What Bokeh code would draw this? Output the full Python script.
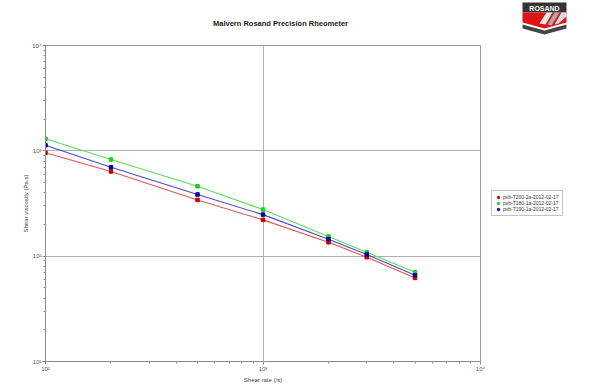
from bokeh.plotting import figure
from bokeh.layouts import column, row
from bokeh.models import (FixedTicker, CustomJSTickFormatter, Legend, LegendItem, Range1d)
from bokeh.core.properties import value
from bokeh.embed import file_html
from bokeh.resources import INLINE

shear_rate = [100, 200, 500, 1000, 2000, 3000, 5000]
visc_T200 = [957, 636, 342, 221, 135.5, 97.7, 62.2]
visc_T180 = [1300, 827, 461, 277, 153.6, 109, 70.3]
visc_T190 = [1130, 699, 385, 248, 145, 103.5, 65.9]
series_names = ["pvb-T200-2a-2012-02-17", "pvb-T180-1a-2012-02-17", "pvb-T190-1a-2012-02-17"]
x_major = [100, 1000, 10000]
y_major = [10, 100, 1000, 10000]
title_text = "Malvern Rosand Precision Rheometer"
logo_text = "ROSAND"

FONT = "Liberation Sans"
line_colors = ["#e05555", "#5ddd5d", "#4a4acc"]
mark_colors = ["#cc0000", "#22cc22", "#000099"]

# ---------------- header (title + logo), pixel coordinates ----------------
hdr = figure(width=600, height=40, x_range=Range1d(0, 600), y_range=Range1d(40, 0),
             x_axis_location=None, y_axis_location=None, output_backend="svg",
             toolbar_location=None, min_border=0)
hdr.outline_line_color = None
hdr.xgrid.visible = False
hdr.ygrid.visible = False
hdr.text(x=[280], y=[23], text=[title_text], text_align="center", text_baseline="middle",
         text_font=value(FONT), text_font_size="7.5px", text_font_style="bold",
         text_color="#222222")

L, T = 522, 2
def poly(pts, color):
    hdr.patch([L + a for a, b in pts], [T + b for a, b in pts],
              fill_color=color, line_color=None)
poly([(0, 0), (44, 0), (44, 10), (0, 10)], "#333333")
poly([(0, 10), (44, 10), (44, 20), (22, 26), (0, 20)], "#dd1515")
poly([(24, 10), (30, 10), (23, 22), (17, 21)], "#e8e8e8")
poly([(32, 10), (37, 10), (29, 23), (25, 22)], "#aaaaaa")
poly([(39, 10), (44, 10), (44, 14), (36, 21), (32, 22)], "#dddddd")
poly([(0, 22), (22, 28), (44, 22), (44, 26), (22, 32), (0, 26)], "#444444")
hdr.text(x=[L + 22], y=[T + 5.5], text=[logo_text], text_align="center",
         text_baseline="middle", text_font=value(FONT), text_font_size="7px",
         text_font_style="bold", text_color="white")

# ---------------- main chart ----------------
p = figure(width=490, height=348, x_axis_type="log", y_axis_type="log",
           x_range=(100, 10000), y_range=(10, 10000),
           output_backend="svg", toolbar_location=None,
           min_border_left=45, min_border_top=5, min_border_bottom=27, min_border_right=10)
p.outline_line_color = "#9a9a9a"

fmt = CustomJSTickFormatter(code="""
const e = Math.round(Math.log10(tick));
const sup = {"0":"\u2070","1":"\u00b9","2":"\u00b2","3":"\u00b3","4":"\u2074"};
return "10" + sup[String(e)];
""")

x_minor = [m * d for d in (100, 1000) for m in range(2, 10)]
y_minor = [m * d for d in (10, 100, 1000) for m in range(2, 10)]
p.xaxis.ticker = FixedTicker(ticks=x_major, minor_ticks=x_minor)
p.yaxis.ticker = FixedTicker(ticks=y_major, minor_ticks=y_minor)
for ax in (p.xaxis[0], p.yaxis[0]):
    ax.formatter = fmt
    ax.axis_line_color = "#8a8a8a"
    ax.major_tick_line_color = "#8a8a8a"
    ax.minor_tick_line_color = "#8a8a8a"
    ax.major_tick_out = 3
    ax.major_tick_in = 0
    ax.minor_tick_out = 2
    ax.minor_tick_in = 0
    ax.major_label_text_font = FONT
    ax.major_label_text_font_size = "6px"
    ax.major_label_text_color = "#555555"
    ax.major_label_standoff = 1
    ax.axis_label_text_font = FONT
    ax.axis_label_text_font_size = "6px"
    ax.axis_label_text_font_style = "normal"
    ax.axis_label_text_color = "#444444"
p.xaxis.axis_label_standoff = 2
p.yaxis.axis_label_standoff = 0
p.xaxis.axis_label = "Shear rate (/s)"
p.yaxis.axis_label = "Shear viscosity (Pa.s)"
p.xgrid.grid_line_color = "#b0b0b0"
p.ygrid.grid_line_color = "#b0b0b0"

for vals, lc, mc in zip([visc_T200, visc_T180, visc_T190], line_colors, mark_colors):
    p.line(shear_rate, vals, line_color=lc, line_width=1.1)
    p.scatter(shear_rate, vals, marker="square", size=3.5, fill_color=mc, line_color=mc)

# ---------------- side panel with legend ----------------
side = figure(width=110, height=348, x_range=Range1d(490, 600), y_range=Range1d(388, 40),
              x_axis_location=None, y_axis_location=None, output_backend="svg",
              toolbar_location=None, min_border=0)
side.outline_line_color = None
side.xgrid.visible = False
side.ygrid.visible = False
items = []
for name, mc in zip(series_names, mark_colors):
    # swatch renderers placed off-range: only their legend glyphs show
    r = side.scatter(x=[-100], y=[-100], marker="circle", size=3.5, fill_color=mc, line_color=mc)
    items.append(LegendItem(label=name, renderers=[r]))
legend = Legend(items=items, location=(1, 145), margin=0, padding=3, spacing=0,
                glyph_height=6, glyph_width=6, label_height=6, label_standoff=2,
                label_text_font=FONT, label_text_font_size="5px", label_text_color="#333333",
                border_line_color="#888888", border_line_width=1)
side.add_layout(legend)

layout = column(hdr, row(p, side, spacing=0), spacing=0)
open("out.html", "w").write(file_html(layout, INLINE))
